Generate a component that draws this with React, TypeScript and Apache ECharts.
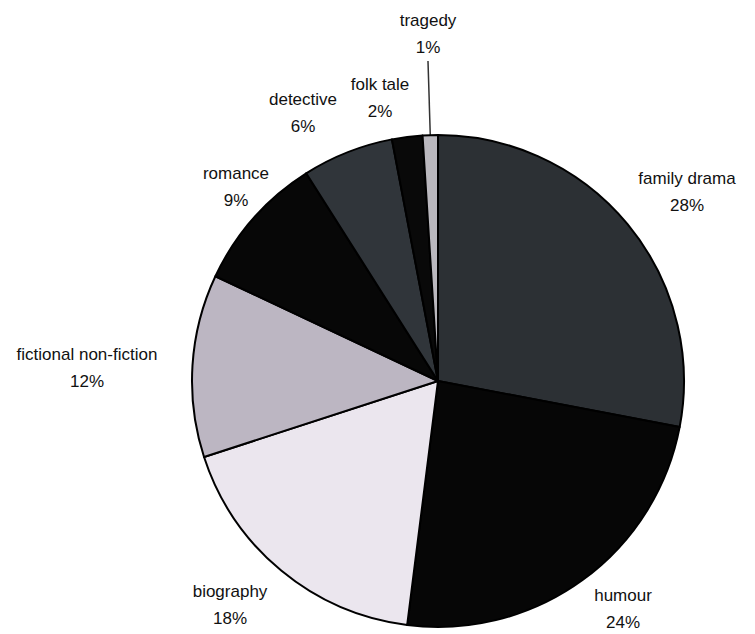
import React, { useEffect, useRef } from "react";
import * as echarts from "echarts";

const categories = [
  "family drama",
  "humour",
  "biography",
  "fictional non-fiction",
  "romance",
  "detective",
  "folk tale",
  "tragedy",
];
const shares = [28, 24, 18, 12, 9, 6, 2, 1];
const sliceColors = [
  "#2c3034",
  "#060606",
  "#ebe6ee",
  "#bcb6c2",
  "#070707",
  "#30353a",
  "#090909",
  "#bab8be",
];
const labelCenters: [number, number][] = [
  [687, 192],
  [623, 609],
  [230, 605],
  [87, 368],
  [236, 187],
  [303, 113],
  [380, 98],
  [428, 34],
];

export default function App() {
  const ref = useRef<HTMLDivElement>(null);
  useEffect(() => {
    if (!ref.current) return;
    const chart = echarts.init(ref.current, null, { renderer: "svg" });
    chart.setOption({
      animation: false,
      backgroundColor: "#ffffff",
      series: [
        {
          type: "pie",
          center: [438, 381],
          radius: 246,
          startAngle: 90,
          clockwise: true,
          avoidLabelOverlap: false,
          itemStyle: { borderColor: "#000000", borderWidth: 2 },
          label: {
            show: true,
            position: "outside",
            formatter: (p: any) => `${p.name}\n${p.value}%`,
            fontFamily: "Liberation Sans, Arial, sans-serif",
            fontSize: 17,
            lineHeight: 27,
            color: "#111111",
            align: "center",
          },
          labelLine: { show: false },
          labelLayout: (params: any) => {
            const c = labelCenters[params.dataIndex];
            return {
              x: c[0],
              y: c[1],
              align: "center",
              verticalAlign: "middle",
            };
          },
          emphasis: { disabled: true },
          data: categories.map((name, i) => ({
            name,
            value: shares[i],
            itemStyle: { color: sliceColors[i] },
            labelLine:
              i === categories.length - 1
                ? { show: true, length: 20, length2: 0, lineStyle: { color: "#333", width: 1.5 } }
                : { show: false },
          })),
        },
      ],
    });
    return () => chart.dispose();
  }, []);
  return (
    <div
      ref={ref}
      style={{ position: "absolute", left: 0, top: 0, width: 755, height: 634 }}
    />
  );
}
